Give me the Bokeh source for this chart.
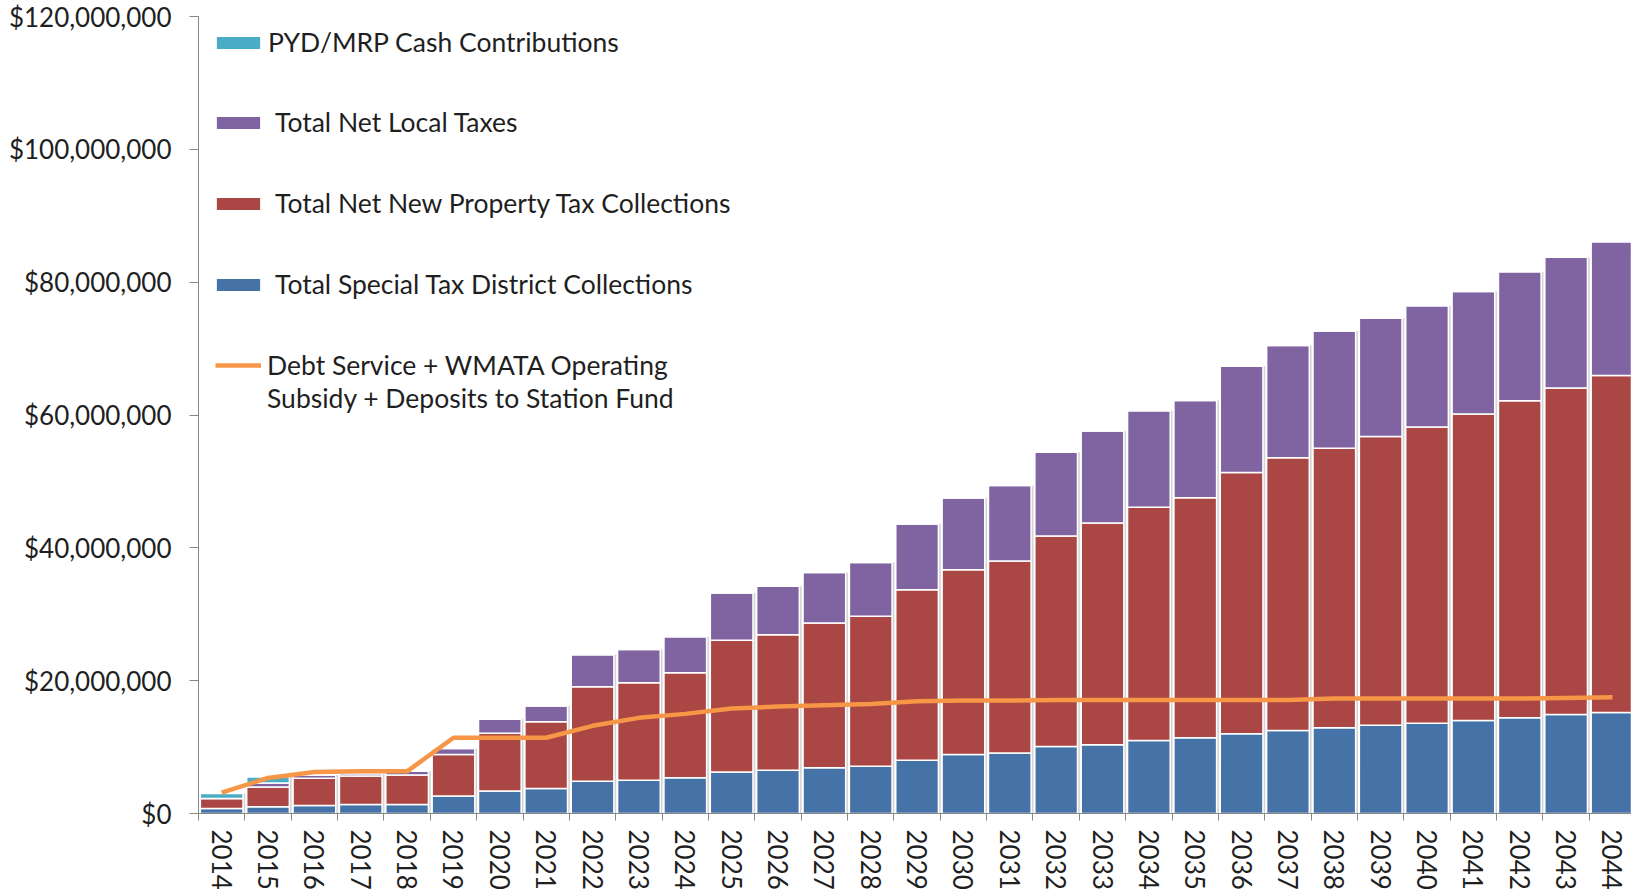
import math
from bokeh.plotting import figure
from bokeh.models import (ColumnDataSource, Range1d, FixedTicker, NumeralTickFormatter,
                          Legend, LegendItem)
from bokeh.transform import dodge
from bokeh.embed import file_html
from bokeh.resources import INLINE

# ---------------- data (millions of dollars) ----------------
years = ["2014", "2015", "2016", "2017", "2018", "2019", "2020", "2021", "2022", "2023",
         "2024", "2025", "2026", "2027", "2028", "2029", "2030", "2031", "2032", "2033",
         "2034", "2035", "2036", "2037", "2038", "2039", "2040", "2041", "2042", "2043",
         "2044"]

special_tax = [0.75, 1.0, 1.2, 1.35, 1.35, 2.65, 3.4, 3.75, 4.85, 5.0,
               5.4, 6.25, 6.5, 6.9, 7.1, 8.0, 8.9, 9.1, 10.1, 10.35,
               11.0, 11.4, 12.0, 12.5, 12.9, 13.3, 13.6, 14.0, 14.4, 14.9,
               15.2]

property_tax = [1.5, 3.0, 4.1, 4.3, 4.45, 6.25, 8.7, 10.05, 14.25, 14.7,
                15.8, 19.85, 20.4, 21.8, 22.6, 25.7, 27.8, 28.9, 31.7, 33.4,
                35.1, 36.15, 39.35, 41.05, 42.1, 43.45, 44.6, 46.15, 47.75, 49.15,
                50.75]

local_taxes = [0.0, 0.6, 0.5, 0.35, 0.55, 0.9, 2.1, 2.4, 4.8, 5.0,
               5.4, 7.1, 7.3, 7.6, 8.1, 9.9, 10.8, 11.4, 12.6, 13.85,
               14.55, 14.65, 16.0, 16.9, 17.65, 17.8, 18.25, 18.45, 19.4, 19.7,
               20.15]

pyd_mrp = [0.75, 0.9, 0.0, 0.0, 0.0, 0.0, 0.0, 0.0, 0.0, 0.0,
           0.0, 0.0, 0.0, 0.0, 0.0, 0.0, 0.0, 0.0, 0.0, 0.0,
           0.0, 0.0, 0.0, 0.0, 0.0, 0.0, 0.0, 0.0, 0.0, 0.0,
           0.0]

debt_service = [3.15, 5.35, 6.25, 6.35, 6.35, 11.4, 11.4, 11.4, 13.2, 14.4,
                15.0, 15.8, 16.1, 16.3, 16.5, 16.9, 17.0, 17.0, 17.1, 17.1,
                17.1, 17.1, 17.1, 17.1, 17.3, 17.3, 17.3, 17.3, 17.3, 17.4,
                17.5]

y_ticks = [0, 20, 40, 60, 80, 100, 120]

series_names = ["PYD/MRP Cash Contributions", "Total Net Local Taxes",
                "Total Net New Property Tax Collections", "Total Special Tax District Collections"]
line_label_1 = "Debt Service + WMATA Operating"
line_label_2 = "Subsidy + Deposits to Station Fund"

M = 1e6
xs = list(range(len(years)))
src = ColumnDataSource(dict(
    x=xs,
    special=[v * M for v in special_tax],
    property=[v * M for v in property_tax],
    local=[v * M for v in local_taxes],
    pyd=[v * M for v in pyd_mrp],
    total=[(a + b + c + d) * M for a, b, c, d in zip(special_tax, property_tax, local_taxes, pyd_mrp)],
    debt=[v * M for v in debt_service],
))

C_BLUE = "#4572A7"
C_RED = "#AA4643"
C_PURPLE = "#8064A2"
C_TEAL = "#4BACC6"
C_ORANGE = "#F79646"
AXIS = "#878787"
TXT = "#1f1f1f"
FONT = "Lato"

p = figure(width=1631, height=892, output_backend="svg", toolbar_location=None,
           x_range=Range1d(-0.5, len(years) - 0.59), y_range=Range1d(0, 120 * M),
           min_border_left=198, min_border_right=0, min_border_top=16, min_border_bottom=40)
p.outline_line_color = None
p.xgrid.visible = False
p.ygrid.visible = False
p.background_fill_color = "white"
p.border_fill_color = "white"

# shadow behind bars
p.vbar(x=dodge("x", 0.05), top="total", width=0.92, source=src,
       fill_color="#d3d3d3", line_color=None)

stack = p.vbar_stack(["special", "property", "local", "pyd"], x="x", width=0.92, source=src,
                     fill_color=[C_BLUE, C_RED, C_PURPLE, C_TEAL],
                     line_color="white", line_width=1.5)

ln = p.line(x="x", y="debt", source=src, line_color=C_ORANGE, line_width=4.5)
dummy = p.line(x="x", y="debt", source=src, line_alpha=0)

# axes
ya = p.yaxis[0]
ya.ticker = FixedTicker(ticks=[t * M for t in y_ticks])
ya.formatter = NumeralTickFormatter(format="$0,0")
ya.axis_line_color = AXIS
ya.major_tick_line_color = AXIS
ya.major_tick_out = 9
ya.major_tick_in = 0
ya.minor_tick_out = 0
ya.minor_tick_in = 0
ya.major_label_standoff = 18
ya.major_label_text_font = FONT
ya.major_label_text_font_size = "26px"
ya.major_label_text_color = TXT

xa = p.xaxis[0]
xa.ticker = FixedTicker(ticks=xs, minor_ticks=[i - 0.5 for i in range(len(years) + 1)])
xa.major_label_overrides = {i: y for i, y in zip(xs, years)}
xa.axis_line_color = AXIS
xa.major_tick_out = 0
xa.major_tick_in = 0
xa.minor_tick_out = 7
xa.minor_tick_in = 0
xa.minor_tick_line_color = AXIS
xa.major_label_orientation = -math.pi / 2
xa.major_label_standoff = 9
xa.major_label_text_font = FONT
xa.major_label_text_font_size = "26px"
xa.major_label_text_color = TXT

common = dict(margin=0, padding=0, border_line_color=None, background_fill_alpha=0,
              label_text_font=FONT, label_text_font_size="26.5px", label_text_color=TXT)

leg1 = Legend(items=[LegendItem(label=series_names[0], renderers=[stack[3]])],
              location=(12, 754), glyph_width=56, glyph_height=17, label_height=34,
              label_standoff=2, **common)
leg2 = Legend(items=[LegendItem(label=series_names[1], renderers=[stack[2]]),
                     LegendItem(label=series_names[2], renderers=[stack[1]]),
                     LegendItem(label=series_names[3], renderers=[stack[0]])],
              location=(12, 512), glyph_width=56, glyph_height=17, label_height=34,
              label_standoff=9, spacing=47, **common)
leg3 = Legend(items=[LegendItem(label=line_label_1, renderers=[ln]),
                     LegendItem(label=line_label_2, renderers=[dummy])],
              location=(17, 399), glyph_width=46, glyph_height=14, label_height=32,
              label_standoff=6, spacing=1, **common)
for lg in (leg1, leg2, leg3):
    p.add_layout(lg)

open("out.html", "w").write(file_html(p, INLINE))
